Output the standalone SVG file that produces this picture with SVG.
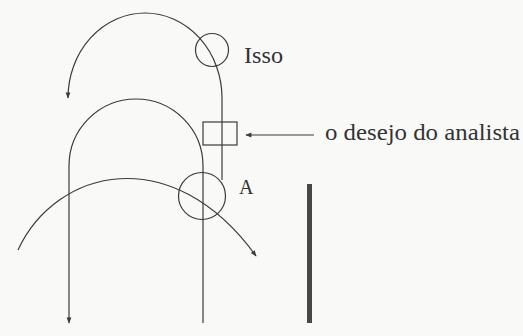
<svg xmlns="http://www.w3.org/2000/svg" width="523" height="336" viewBox="0 0 523 336">
<defs>
<style>
.ln{fill:none;stroke:#3a3a3a;stroke-width:1.2}
.sh{fill:none;stroke:#3a3a3a;stroke-width:1.2}
.tx{font-family:"Liberation Serif","Times New Roman",serif;fill:#333}
</style>
<marker id="ah" viewBox="0 0 10 10" refX="9" refY="5" markerWidth="7" markerHeight="6" markerUnits="userSpaceOnUse" orient="auto">
<path d="M0,1 L10,5 L0,9 Z" fill="#3a3a3a"/>
</marker>
</defs>
<rect width="523" height="336" fill="#f9f9f8"/>
<g id="connectors">
<path class="ln" d="M222,180 V98 A77,85 0 0 0 68,98" marker-end="url(#ah)"/>
<path class="ln" d="M203,323 V166 A67,67 0 0 0 69,166 V323" marker-end="url(#ah)"/>
<path class="ln" d="M18,250 C56,168 172,140 256,256" marker-end="url(#ah)"/>
<line class="ln" x1="314" y1="135" x2="246" y2="135" marker-end="url(#ah)"/>
</g>
<g id="isso">
<circle class="sh" cx="212" cy="50" r="16.5"/>
<text class="tx" x="244" y="63" font-size="24" textLength="39" lengthAdjust="spacingAndGlyphs">Isso</text>
</g>
<g id="desejo">
<rect class="sh" x="203" y="122" width="34" height="23"/>
<text class="tx" x="325" y="140" font-size="24" textLength="195" lengthAdjust="spacingAndGlyphs">o desejo do analista</text>
</g>
<g id="a">
<circle class="sh" cx="202" cy="196" r="23.5"/>
<text class="tx" x="239" y="194" font-size="20">A</text>
</g>
<g id="bar">
<rect x="307" y="184" width="5" height="139" fill="#484848"/>
</g>
</svg>
